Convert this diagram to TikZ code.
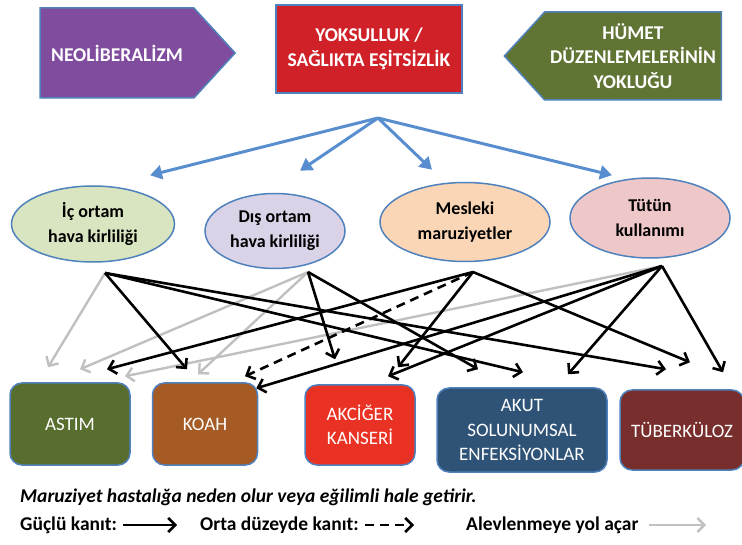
\documentclass[tikz,border=0pt]{standalone}
\usepackage{fontspec}
\setmainfont{Carlito}
\definecolor{risk_edge}{RGB}{79, 129, 189}
\definecolor{risk_purple}{RGB}{128, 77, 158}
\definecolor{risk_red}{RGB}{208, 32, 40}
\definecolor{risk_olive}{RGB}{96, 116, 52}
\definecolor{risk_arrow}{RGB}{88, 142, 208}
\definecolor{risk_gray}{RGB}{192, 192, 192}
\usepackage{tikz}
\usetikzlibrary{arrows.meta, shapes.geometric, shapes.symbols}

\begin{document}
\begin{tikzpicture}[x=1pt, y=-1pt,
            top/.style={draw=risk_edge, line width=1.5pt, text=white, align=center,
                        font=\fontsize{19.5}{24.5}\selectfont\bfseries},
            expo/.style={ellipse, draw=risk_edge, line width=1.5pt, align=center,
                         inner sep=0pt, font=\fontsize{18}{25}\selectfont\bfseries},
            dis/.style={draw=risk_edge, line width=1.5pt, rounded corners=12pt,
                        text=white, align=center, font=\fontsize{19}{24.5}\selectfont},
            legend/.style={anchor=west, inner sep=0pt, font=\fontsize{19.5}{22}\selectfont\bfseries},
            cause/.style={risk_arrow, line width=3pt, -{Triangle[length=12pt, width=14pt]}},
            strong/.style={black, line width=2.6pt, -{Straight Barb[length=7pt, width=14pt]}},
            moderate/.style={strong, dash pattern=on 9pt off 6pt},
            flare/.style={risk_gray, line width=2.4pt, -{Straight Barb[length=7pt, width=14pt]}}]
            \useasboundingbox (0,0) rectangle (742,545);
            % top row
            \node[top, signal, signal to=east, signal pointer angle=95, fill=risk_purple,
                  minimum width=195pt, minimum height=90pt] (n1) at (117,53) {NEOLİBERALİZM};
            \node[top, fill=risk_red, minimum width=186pt, minimum height=88pt] (n2) at (369,49)
              {YOKSULLUK /\\SAĞLIKTA EŞİTSİZLİK};
            \node[top, signal, signal to=west, signal pointer angle=95, fill=risk_olive,
                  minimum width=217pt, minimum height=88pt] (n3) at (633,56)
              {HÜMET\\DÜZENLEMELERİNİN\\YOKLUĞU};
            % exposures
            \node[expo, fill={rgb,255:red,217;green,229;blue,192}, minimum width=163pt, minimum height=76pt]
              (e1) at (93,224) {İç ortam\\hava kirliliği};
            \node[expo, fill={rgb,255:red,218;green,210;blue,230}, minimum width=140pt, minimum height=75pt]
              (e2) at (275,231) {Dış ortam\\hava kirliliği};
            \node[expo, fill={rgb,255:red,251;green,214;blue,182}, minimum width=170pt, minimum height=79pt]
              (e3) at (465,222) {Mesleki\\maruziyetler};
            \node[expo, fill={rgb,255:red,238;green,200;blue,200}, minimum width=160pt, minimum height=80pt]
              (e4) at (650,218) {Tütün\\kullanımı};
            \coordinate (b0) at (378,118);
            \draw[cause] (b0) -- ([xshift=57pt, yshift=10pt]e1.north);
            \draw[cause] (b0) -- ([xshift=25pt, yshift=22pt]e2.north);
            \draw[cause] (b0) -- ([xshift=-33pt, yshift=12pt]e3.north);
            \draw[cause] (b0) -- ([xshift=-38pt, yshift=2pt]e4.north);
            % diseases
            \node[dis, fill={rgb,255:red,88;green,110;blue,46}, minimum width=120pt, minimum height=82pt]
              (h1) at (70,424) {ASTIM};
            \node[dis, fill={rgb,255:red,166;green,90;blue,36}, minimum width=105pt, minimum height=82pt]
              (h2) at (205,424) {KOAH};
            \node[dis, fill={rgb,255:red,234;green,50;blue,36}, minimum width=110pt, minimum height=80pt]
              (h3) at (360,425) {AKCİĞER\\KANSERİ};
            \node[dis, fill={rgb,255:red,47;green,83;blue,118}, minimum width=170pt, minimum height=84pt]
              (h4) at (522,430) {AKUT\\SOLUNUMSAL\\ENFEKSİYONLAR};
            \node[dis, fill={rgb,255:red,120;green,46;blue,44}, minimum width=124pt, minimum height=80pt]
              (h5) at (682,430) {TÜBERKÜLOZ};
            \coordinate (o1) at (105,273);
            \coordinate (o2) at (308,272);
            \coordinate (o3) at (473,272);
            \coordinate (o4) at (662,266);
            \draw[flare] (o1) -- ([xshift=-22pt, yshift=15pt]h1.north);
            \draw[flare] (o2) -- ([xshift=10pt, yshift=13pt]h1.north);
            \draw[flare] (o2) -- ([xshift=-7pt, yshift=8pt]h2.north);
            \draw[flare] (o4) -- ([xshift=55pt, yshift=6pt]h1.north);
            \draw[strong] (o1) -- ([xshift=-18pt, yshift=13pt]h2.north);
            \draw[strong] (o1) -- ([xshift=1pt, yshift=15pt]h4.north);
            \draw[strong] (o1) -- ([xshift=-16pt, yshift=20pt]h5.north);
            \draw[strong] (o2) -- ([xshift=-25pt, yshift=25pt]h3.north);
            \draw[strong] (o2) -- ([xshift=-44pt, yshift=18pt]h4.north);
            \draw[strong] (o3) -- ([xshift=37pt, yshift=13pt]h1.north);
            \draw[moderate] (o3) -- ([xshift=40pt, yshift=6pt]h2.north);
            \draw[strong] (o3) -- ([xshift=38pt, yshift=17pt]h3.north);
            \draw[strong] (o3) -- ([xshift=8pt, yshift=27pt]h5.north);
            \draw[strong] (o4) -- ([xshift=-2pt, yshift=-6pt]h2.north east);
            \draw[strong] (o4) -- ([xshift=28pt, yshift=8pt]h3.north);
            \draw[strong] (o4) -- ([xshift=46pt, yshift=13pt]h4.north);
            \draw[strong] (o4) -- ([xshift=41pt, yshift=17pt]h5.north);
            % legend
            \node[legend] (l0) at (20,497) {\itshape Maruziyet hastalığa neden olur veya eğilimli hale getirir.};
            \node[legend] (l1) at (20,525) {Güçlü kanıt:};
            \node[legend] (l2) at (200,525) {Orta düzeyde kanıt:};
            \node[legend] (l3) at (466,525) {Alevlenmeye yol açar};
            \coordinate (k1) at (177,525);
            \coordinate (k2) at (414,525);
            \coordinate (k3) at (706,525);
            \draw[strong] ([xshift=6pt]l1.east) -- (k1);
            \draw[moderate] ([xshift=6pt]l2.east) -- (k2);
            \draw[flare] ([xshift=10pt]l3.east) -- (k3);
          \end{tikzpicture}
\end{document}
